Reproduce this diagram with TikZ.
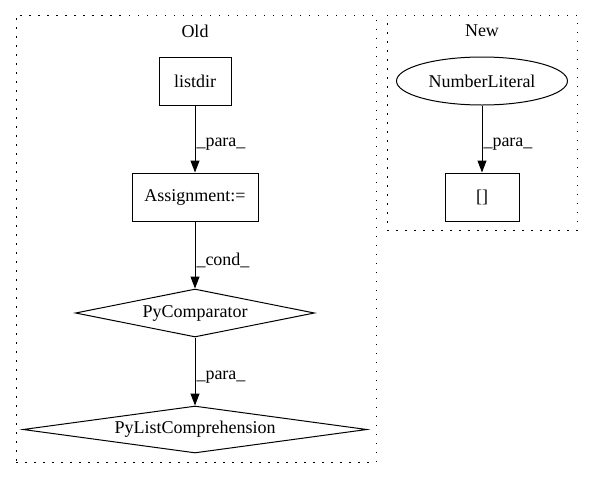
\documentclass[tikz,border=0pt]{standalone}
\usepackage{fontspec}
\setmainfont{Liberation Serif}
\usetikzlibrary{shapes.geometric,arrows.meta}
\tikzset{
  box/.style={draw, minimum height=48pt, inner sep=0pt},
  cmp/.style={draw, diamond, aspect=7, inner sep=0pt},
  lit/.style={draw, ellipse, inner sep=0pt},
  cluster/.style={draw, dash pattern=on 1.5pt off 7.5pt, inner sep=0pt},
  flow/.style={-{Triangle[length=12pt,width=9pt]}},
  lbl/.style={right, inner sep=1pt, pos=0.58}
}
\begin{document}
\begin{tikzpicture}[x=1pt,y=-1pt,font=\fontsize{18}{21}\selectfont,line width=1pt]
  \useasboundingbox (0,0) rectangle (595,480);
  % clusters
  \node[cluster, minimum width=360pt, minimum height=447pt] (old) at (196,238.5) {};
  \node[cluster, minimum width=190pt, minimum height=215pt] (new) at (482,122.5) {};
  \node (oldtitle) at (195,31) {Old};
  \node (newtitle) at (482,31) {New};

  \node[box, minimum width=72pt] (listdir) at (195,81) {listdir};
  \node[box, minimum width=126pt] (assign) at (195,197) {Assignment:=};
  \node[cmp, minimum width=239pt, minimum height=48pt] (pycmp) at (195,313) {PyComparator};
  \node[cmp, minimum width=344pt, minimum height=47pt] (pylist) at (195,429.5) {PyListComprehension};

  \node[lit, minimum width=171pt, minimum height=48pt] (numlit) at (482,81) {NumberLiteral};
  \node[box, minimum width=74pt] (sub) at (482,197) {[]};

  \draw[flow] (listdir) -- (assign) node[lbl] {\_para\_};
  \draw[flow] (assign) -- (pycmp) node[lbl] {\_cond\_};
  \draw[flow] (pycmp) -- (pylist) node[lbl] {\_para\_};
  \draw[flow] (numlit) -- (sub) node[lbl] {\_para\_};
\end{tikzpicture}
\end{document}
